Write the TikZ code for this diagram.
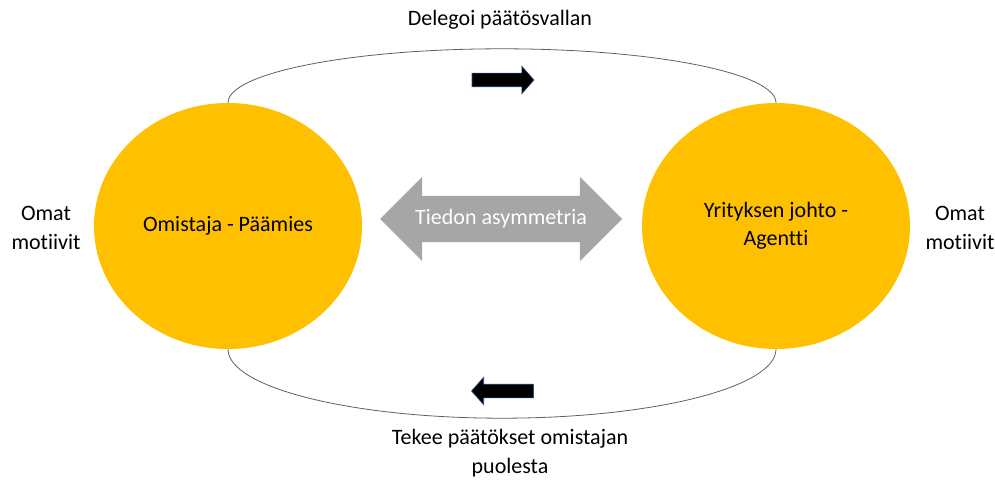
\documentclass[tikz,border=0pt]{standalone}
\usepackage{fontspec}
\setmainfont{Carlito}[Ligatures=NoCommon]
\usepackage{tikz}
\usetikzlibrary{shapes.geometric, shapes.arrows, positioning}
\definecolor{myorange}{RGB}{255,192,0}
\definecolor{mygray}{RGB}{166,166,166}
\definecolor{myedge}{RGB}{47,82,143}
\definecolor{myloop}{RGB}{95,95,95}
\newcommand{\txtfont}{\fontsize{22}{28.5}\selectfont}
\tikzset{
  party/.style={ellipse, fill=myorange, minimum width=268pt,
    minimum height=246pt, align=center, inner sep=0pt, font=\txtfont},
  note/.style={align=center, font=\txtfont, inner sep=0pt},
  fatarrow/.style={single arrow, fill=black, draw=myedge, line width=0.6pt,
    minimum height=62pt, inner sep=6.5pt, single arrow head extend=7pt,
    single arrow tip angle=97},
  infoarrow/.style={double arrow, fill=mygray, text=white, font=\txtfont,
    minimum height=242pt, inner xsep=4pt, inner ysep=12.5pt,
    text height=16pt, text depth=5pt, double arrow head extend=19pt,
    double arrow tip angle=90},
  loop/.style={line width=0.8pt, color=myloop}
}

\begin{document}
\begin{tikzpicture}[x=1pt, y=-1pt]
  \useasboundingbox (0,0) rectangle (995,484);
  % kierto ylhaalla ja alhaalla
  \node[party] (owner) at (228,226) {Omistaja - Päämies};
  \node[party] (agent) at (776,226) {Yrityksen johto -\\Agentti};
  \draw[loop] (owner.north) arc[start angle=180, end angle=360, x radius=274, y radius=54];
  \draw[loop] (owner.south) arc[start angle=180, end angle=0, x radius=274, y radius=69];
  \node[fatarrow] (delegate) at (500,80) {};
  \node[fatarrow, shape border rotate=180] (decide) at (505.5,391) {};
  \node[infoarrow] (info) at (501,219) {Tiedon asymmetria};
  % tekstit
  \node[note] (topnote) at (500,20) {Delegoi päätösvallan};
  \node[note] (botnote) at (510,453) {Tekee päätökset omistajan\\puolesta};
  \node[note] (ownmotive) at (46,228) {Omat\\motiivit};
  \node[note] (agentmotive) at (960,228) {Omat\\motiivit};
\end{tikzpicture}
\end{document}
